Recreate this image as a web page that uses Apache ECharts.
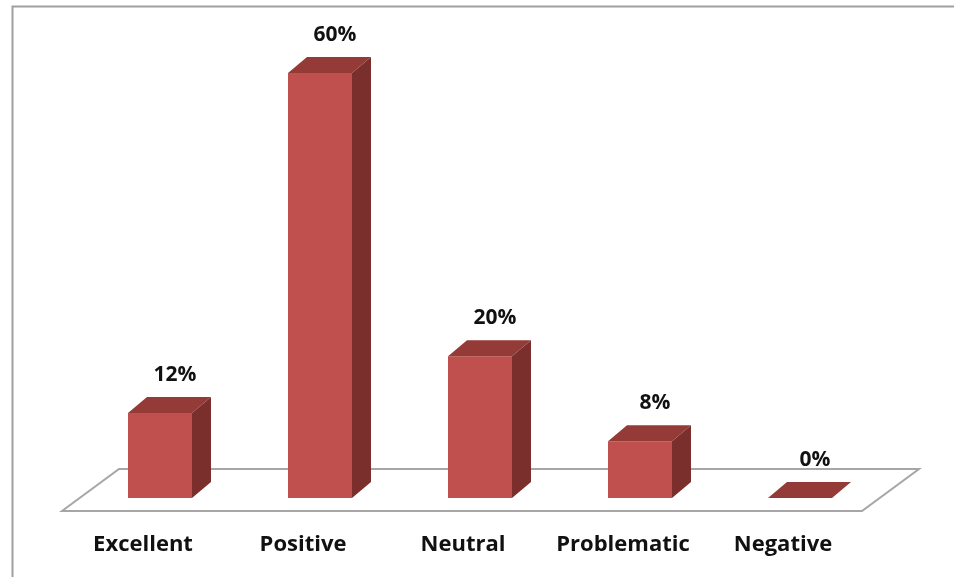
<!DOCTYPE html>
<html>
<head>
<meta charset="utf-8">
<script src="https://cdn.jsdelivr.net/npm/echarts@6/dist/echarts.min.js"></script>
<style>
  html, body { margin: 0; padding: 0; background: #ffffff; }
  #chart { width: 954px; height: 577px; }
</style>
</head>
<body>
<div id="chart"></div>
<script>
// Survey responses by rating
var categories = ['Excellent', 'Positive', 'Neutral', 'Problematic', 'Negative'];
var shares = [12, 60, 20, 8, 0];
var valueLabels = ['12%', '60%', '20%', '8%', '0%'];

var FRONT = '#C0504D';
var SIDE = '#7A2F2D';
var TOP = '#943A37';
var FONT = '"Open Sans", "DejaVu Sans", sans-serif';

var chart = echarts.init(document.getElementById('chart'));

// Depth of a bar (oblique projection) and of the floor slab
var BAR_W = 64, BAR_DX = 19, BAR_DY = 16;
var FLOOR_FRONT_DX = -18, FLOOR_FRONT_DY = 13;
var FLOOR_BACK_DX = 39, FLOOR_BACK_DY = -29;

function renderFloor(params, api) {
  if (params.dataIndex !== 0) return null;
  var cs = params.coordSys;
  var base = api.coord([0, 0])[1];
  var l = cs.x, r = cs.x + cs.width;
  return {
    type: 'polygon',
    shape: {
      points: [
        [l + FLOOR_FRONT_DX, base + FLOOR_FRONT_DY],
        [l + FLOOR_BACK_DX, base + FLOOR_BACK_DY],
        [r + FLOOR_BACK_DX, base + FLOOR_BACK_DY],
        [r + FLOOR_FRONT_DX, base + FLOOR_FRONT_DY]
      ]
    },
    style: { fill: '#ffffff', stroke: '#A6A6A6', lineWidth: 2 },
    silent: true
  };
}

function renderBar(params, api) {
  var i = api.value(0);
  var v = api.value(1);
  var top = api.coord([i, v]);
  var bottom = api.coord([i, 0]);
  var x0 = top[0] - BAR_W / 2, x1 = top[0] + BAR_W / 2;
  var yT = top[1], yB = bottom[1];
  var children = [];
  if (yB - yT > 0.5) {
    children.push({
      type: 'polygon',
      shape: { points: [[x1, yT], [x1 + BAR_DX, yT - BAR_DY], [x1 + BAR_DX, yB - BAR_DY], [x1, yB]] },
      style: { fill: SIDE }
    });
    children.push({
      type: 'rect',
      shape: { x: x0, y: yT, width: BAR_W, height: yB - yT },
      style: { fill: FRONT }
    });
  }
  children.push({
    type: 'polygon',
    shape: { points: [[x0, yT], [x0 + BAR_DX, yT - BAR_DY], [x1 + BAR_DX, yT - BAR_DY], [x1, yT]] },
    style: { fill: TOP }
  });
  children.push({
    type: 'text',
    style: {
      text: valueLabels[params.dataIndex],
      x: top[0] + 15,
      y: yT - BAR_DY - 22,
      align: 'center',
      verticalAlign: 'middle',
      fontFamily: FONT,
      fontWeight: 'bold',
      fontSize: 21,
      fill: '#111111'
    }
  });
  return { type: 'group', children: children };
}

var barData = shares.map(function (v, i) { return [i, v]; });

chart.setOption({
  animation: false,
  backgroundColor: '#ffffff',
  grid: { left: 80, right: 74, top: 73, bottom: 79 },
  xAxis: {
    type: 'category',
    data: categories,
    boundaryGap: true,
    axisLine: { show: false },
    axisTick: { show: false },
    axisLabel: {
      interval: 0,
      hideOverlap: false,
      margin: 36,
      padding: [0, 34, 0, 0],
      fontFamily: FONT,
      fontWeight: 'bold',
      fontSize: 22,
      color: '#111111'
    }
  },
  yAxis: {
    type: 'value',
    min: 0,
    max: 60,
    show: false,
    splitLine: { show: false }
  },
  graphic: [
    {
      type: 'polyline',
      shape: { points: [[12.5, 577], [12.5, 6.5], [954, 6.5]] },
      style: { stroke: '#A0A0A0', lineWidth: 2, fill: null },
      silent: true
    }
  ],
  series: [
    {
      type: 'custom',
      renderItem: renderFloor,
      data: barData,
      z: 1,
      silent: true
    },
    {
      type: 'custom',
      renderItem: renderBar,
      data: barData,
      encode: { x: 0, y: 1 },
      z: 2
    }
  ]
});
</script>
</body>
</html>
